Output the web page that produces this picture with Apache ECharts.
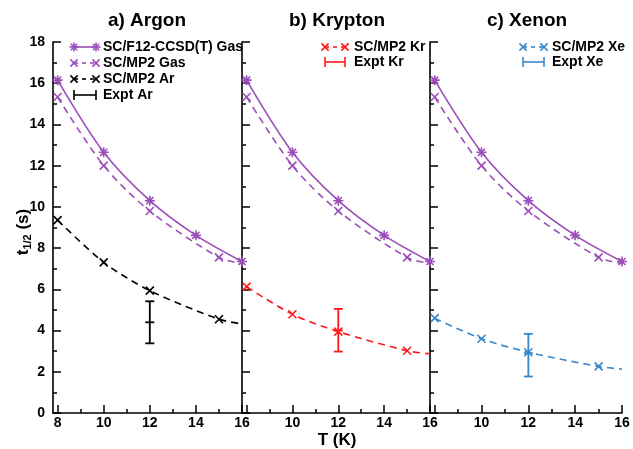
<!DOCTYPE html>
<html>
<head>
<meta charset="utf-8">
<script src="https://cdn.jsdelivr.net/npm/echarts@6/dist/echarts.min.js"></script>
<style>html,body{margin:0;padding:0;background:#fff}#c{width:633px;height:449px}</style>
</head>
<body>
<div id="c"></div>
<script>
// ---- data ----
const panelTitles = ['a) Argon', 'b) Krypton', 'c) Xenon'];
const xTickLabelsA = [8, 10, 12, 14, 16];
const xTickLabelsBC = [10, 12, 14, 16];
const xMajorTicks = [8, 10, 12, 14, 16];
const xMinorTicks = [9, 11, 13, 15];

const T_F12 = [8, 10, 12, 14, 16];
const f12Gas = [16.15, 12.65, 10.3, 8.62, 7.35];

const T_MP2 = [8, 10, 12, 15, 16];
const mp2Marked = [true, true, true, true, false];
const mp2Gas = [15.33, 12.0, 9.8, 7.55, 7.25];
const mp2Ar = [9.36, 7.31, 5.94, 4.55, 4.32];
const mp2Kr = [6.13, 4.79, 3.95, 3.02, 2.87];
const mp2Xe = [4.6, 3.6, 2.95, 2.26, 2.13];

// experiment: [T, centre, low, high]
const exptAr = [[12, 4.4, 3.38, 5.42]];
const exptKr = [[12, 4.0, 2.98, 5.05]];
const exptXe = [[12, 2.9, 1.77, 3.84]];

const elemNames = ['Ar', 'Kr', 'Xe'];
const elemMP2 = [mp2Ar, mp2Kr, mp2Xe];
const elemExpt = [exptAr, exptKr, exptXe];

// ---- styles ----
const PURPLE = '#9b4dba';
const elemColors = ['#000000', '#ff1a1a', '#3a86c8'];
const FONT = 'Liberation Sans, Arial, sans-serif';
const STAR = 'path://M0,-1L0,1M-1,0L1,0M-0.71,-0.71L0.71,0.71M-0.71,0.71L0.71,-0.71';
const XMARK = 'path://M-1,-1L1,1M-1,1L1,-1';
const SMOOTH = 0.3;

const gridTop = 42, gridHeight = 371;
const grids = [
  {left: 53, top: gridTop, width: 189, height: gridHeight},
  {left: 242, top: gridTop, width: 188, height: gridHeight},
  {left: 430, top: gridTop, width: 192, height: gridHeight}
];

function pts(xs, ys, marked) {
  return xs.map((x, i) => (marked && !marked[i]) ? {value: [x, ys[i]], symbol: 'none'} : [x, ys[i]]);
}

const xAxes = [], yAxes = [], series = [];
grids.forEach((g, i) => {
  xAxes.push({
    gridIndex: i, type: 'value', min: 7.8, max: 16, position: 'bottom',
    axisLine: {show: true, onZero: false, lineStyle: {color: '#000', width: 1.6}},
    axisTick: {show: true, inside: true, length: 8, customValues: xMajorTicks, lineStyle: {color: '#000', width: 1.5}},
    axisLabel: {show: true, customValues: i === 0 ? xTickLabelsA : xTickLabelsBC, color: '#000', fontFamily: FONT, fontWeight: 'bold', fontSize: 14, margin: 3},
    splitLine: {show: false}
  });
  xAxes.push({
    gridIndex: i, type: 'value', min: 7.8, max: 16, position: 'bottom',
    axisLine: {show: false},
    axisTick: {show: true, inside: true, length: 4, customValues: xMinorTicks, lineStyle: {color: '#000', width: 1.5}},
    axisLabel: {show: false},
    splitLine: {show: false}
  });
  yAxes.push({
    gridIndex: i, type: 'value', min: 0, max: 18, interval: 2,
    axisLine: {show: true, onZero: false, lineStyle: {color: '#000', width: 1.6}},
    axisTick: {show: true, inside: true, length: 8, lineStyle: {color: '#000', width: 1.5}},
    minorTick: {show: true, splitNumber: 2, length: 4, lineStyle: {color: '#000', width: 1.5}},
    axisLabel: {show: i === 0, color: '#000', fontFamily: FONT, fontWeight: 'bold', fontSize: 14, margin: 8},
    splitLine: {show: false}
  });

  const xi = 2 * i;
  series.push({
    type: 'line', xAxisIndex: xi, yAxisIndex: i, name: 'SC/F12-CCSD(T) Gas',
    data: pts(T_F12, f12Gas), smooth: SMOOTH,
    symbol: STAR, symbolSize: 10,
    lineStyle: {color: PURPLE, width: 1.6},
    itemStyle: {color: PURPLE, borderColor: PURPLE, borderWidth: 1.6}
  });
  series.push({
    type: 'line', xAxisIndex: xi, yAxisIndex: i, name: 'SC/MP2 Gas',
    data: pts(T_MP2, mp2Gas, mp2Marked), smooth: SMOOTH,
    symbol: XMARK, symbolSize: 8,
    lineStyle: {color: PURPLE, width: 1.6, type: [7, 5]},
    itemStyle: {color: PURPLE, borderColor: PURPLE, borderWidth: 1.6}
  });
  const col = elemColors[i];
  series.push({
    type: 'line', xAxisIndex: xi, yAxisIndex: i, name: 'SC/MP2 ' + elemNames[i],
    data: pts(T_MP2, elemMP2[i], mp2Marked), smooth: SMOOTH,
    symbol: XMARK, symbolSize: 8,
    lineStyle: {color: col, width: 1.6, type: [7, 5]},
    itemStyle: {color: col, borderColor: col, borderWidth: 1.6}
  });
  series.push({
    type: 'custom', xAxisIndex: xi, yAxisIndex: i, name: 'Expt ' + elemNames[i],
    data: elemExpt[i],
    renderItem: (params, api) => {
      const c = api.coord([api.value(0), api.value(1)]);
      const lo = api.coord([api.value(0), api.value(2)]);
      const hi = api.coord([api.value(0), api.value(3)]);
      const w = 4.5;
      const st = {stroke: col, lineWidth: 1.8};
      return {type: 'group', children: [
        {type: 'line', shape: {x1: c[0], y1: lo[1], x2: c[0], y2: hi[1]}, style: st},
        {type: 'line', shape: {x1: c[0] - w, y1: lo[1], x2: c[0] + w, y2: lo[1]}, style: st},
        {type: 'line', shape: {x1: c[0] - w, y1: hi[1], x2: c[0] + w, y2: hi[1]}, style: st},
        {type: 'line', shape: {x1: c[0] - w, y1: c[1], x2: c[0] + w, y2: c[1]}, style: st}
      ]};
    },
    z: 5
  });
});

// ---- legends & texts (graphic) ----
function marker(type, cx, cy, s, color) {
  const st = {stroke: color, lineWidth: 1.6};
  const L = (x1, y1, x2, y2) => ({type: 'line', shape: {x1: cx + x1, y1: cy + y1, x2: cx + x2, y2: cy + y2}, style: st});
  if (type === 'star') {
    const d = s * 0.71;
    return [L(0, -s, 0, s), L(-s, 0, s, 0), L(-d, -d, d, d), L(-d, d, d, -d)];
  }
  if (type === 'x') return [L(-s * 0.8, -s * 0.8, s * 0.8, s * 0.8), L(-s * 0.8, s * 0.8, s * 0.8, -s * 0.8)];
  return [L(0, -s, 0, s)];
}
function legendEntry(x1, x2, y, tx, type, dashed, color, text) {
  const els = [];
  els.push({type: 'line', shape: {x1: x1, y1: y, x2: x2, y2: y}, style: {stroke: color, lineWidth: 1.6, lineDash: dashed ? [4, 4] : null}});
  els.push(...marker(type, x1, y, type === 'plus' ? 5 : 4.5, color));
  els.push(...marker(type, x2, y, type === 'plus' ? 5 : 4.5, color));
  els.push({type: 'text', style: {x: tx, y: y, text: text, fill: '#000', font: 'bold 14px ' + FONT, textVerticalAlign: 'middle'}});
  return els;
}
const graphics = [];
const titleX = [147, 337, 527];
panelTitles.forEach((t, i) => graphics.push({type: 'text', style: {x: titleX[i], y: 21, text: t, fill: '#000', font: 'bold 19px ' + FONT, textAlign: 'center', textVerticalAlign: 'middle'}}));
graphics.push({type: 'text', style: {x: 337, y: 440, text: 'T (K)', fill: '#000', font: 'bold 17px ' + FONT, textAlign: 'center', textVerticalAlign: 'middle'}});
graphics.push({type: 'text', x: 23, y: 232, rotation: Math.PI / 2, style: {
  text: 't{sub|1/2} (s)', fill: '#000', fontFamily: FONT, fontWeight: 'bold', fontSize: 17,
  align: 'center', verticalAlign: 'middle',
  rich: {sub: {fontFamily: FONT, fontWeight: 'bold', fontSize: 11, fill: '#000', verticalAlign: 'bottom', padding: [10, 0, 0, 0]}}
}});
graphics.push(...legendEntry(74, 96, 47, 103, 'star', false, PURPLE, 'SC/F12-CCSD(T) Gas'));
graphics.push(...legendEntry(74, 96, 63, 103, 'x', true, PURPLE, 'SC/MP2 Gas'));
graphics.push(...legendEntry(74, 96, 79, 103, 'x', true, elemColors[0], 'SC/MP2 Ar'));
graphics.push(...legendEntry(74, 96, 95, 103, 'plus', false, elemColors[0], 'Expt Ar'));
graphics.push(...legendEntry(325, 345, 47, 354, 'x', true, elemColors[1], 'SC/MP2 Kr'));
graphics.push(...legendEntry(325, 345, 62, 354, 'plus', false, elemColors[1], 'Expt Kr'));
graphics.push(...legendEntry(523, 544, 47, 552, 'x', true, elemColors[2], 'SC/MP2 Xe'));
graphics.push(...legendEntry(523, 544, 62, 552, 'plus', false, elemColors[2], 'Expt Xe'));

const chart = echarts.init(document.getElementById('c'), null, {renderer: 'canvas'});
chart.setOption({
  animation: false,
  backgroundColor: '#fff',
  grid: grids,
  xAxis: xAxes,
  yAxis: yAxes,
  series: series,
  graphic: graphics
});
</script>
</body>
</html>
